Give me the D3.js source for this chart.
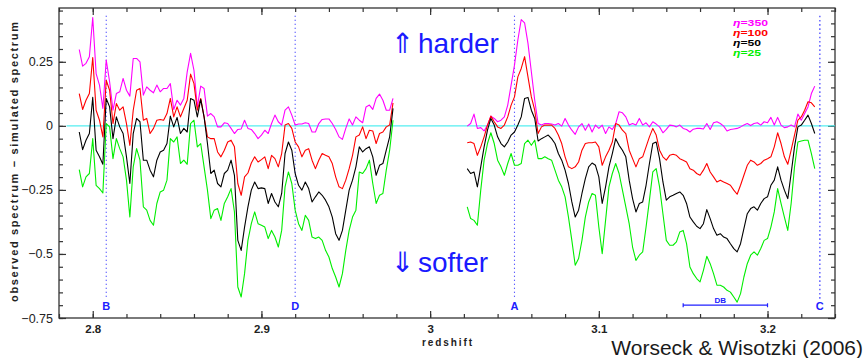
<!DOCTYPE html>
<html>
<head>
<meta charset="utf-8">
<script src="https://cdn.jsdelivr.net/npm/d3@7"></script>
<style>
  body { margin: 0; background: #fff; }
  svg { display: block; }
  text { font-family: "Liberation Sans", Arial, "DejaVu Sans", sans-serif; }
</style>
</head>
<body>
<div id="chart"></div>
<script>
//Data: redshift grid of the two spectrum pieces
var zLeft = [2.792,2.794,2.796,2.798,2.800,2.802,2.804,2.806,2.808,2.810,2.812,2.814,2.816,2.818,2.820,2.822,2.824,2.826,2.828,2.830,
  2.832,2.834,2.836,2.838,2.840,2.842,2.844,2.846,2.848,2.850,2.852,2.854,2.856,2.858,2.860,2.862,2.864,2.866,2.868,2.870,
  2.872,2.874,2.876,2.878,2.880,2.882,2.884,2.886,2.888,2.890,2.892,2.894,2.896,2.898,2.900,2.902,2.904,2.906,2.908,2.910,
  2.912,2.914,2.916,2.918,2.920,2.922,2.924,2.926,2.928,2.930,2.932,2.934,2.936,2.938,2.940,2.942,2.944,2.946,2.948,2.950,
  2.952,2.954,2.956,2.958,2.960,2.962,2.964,2.966,2.968,2.970,2.972,2.974,2.976,2.978];
var zRight = [3.022,3.024,3.026,3.028,3.030,3.032,3.034,3.036,3.038,3.040,3.042,3.044,3.046,3.048,3.050,3.052,3.054,3.056,3.058,3.060,
  3.062,3.064,3.066,3.068,3.070,3.072,3.074,3.076,3.078,3.080,3.082,3.084,3.086,3.088,3.090,3.092,3.094,3.096,3.098,3.100,
  3.102,3.104,3.106,3.108,3.110,3.112,3.114,3.116,3.118,3.120,3.122,3.124,3.126,3.128,3.130,3.132,3.134,3.136,3.138,3.140,
  3.142,3.144,3.146,3.148,3.150,3.152,3.154,3.156,3.158,3.160,3.162,3.164,3.166,3.168,3.170,3.172,3.174,3.176,3.178,3.180,
  3.182,3.184,3.186,3.188,3.190,3.192,3.194,3.196,3.198,3.200,3.202,3.204,3.206,3.208,3.210,3.212,3.214,3.216,3.218,3.220,
  3.222,3.224,3.226,3.228];

//observed - simulated, eta = 350
var magL = [0.298,0.233,0.244,0.270,0.423,0.204,0.159,0.068,0.257,0.172,0.061,0.126,0.133,0.185,0.139,0.116,0.263,0.263,0.250,0.120,
  0.152,0.139,0.129,0.159,0.133,0.146,0.146,0.165,0.064,0.100,0.081,0.107,0.211,0.283,0.217,0.074,0.155,0.146,0.038,0.048,
  0.035,-0.004,-0.004,0.012,0.009,-0.010,-0.030,-0.014,-0.012,0.022,-0.010,-0.014,-0.030,-0.050,-0.036,-0.017,-0.030,0.009,0.042,0.016,
  0.003,0.061,0.074,0.042,0.003,0.007,0.007,0.012,0.009,-0.024,-0.024,0.009,0.025,0.027,0.027,0.009,-0.014,-0.043,-0.053,-0.010,
  0.027,0.003,0.035,0.022,0.012,0.074,0.081,0.064,0.107,0.124,0.100,0.061,0.061,0.107];
var magR = [-0.001,0.009,0.046,-0.010,-0.007,-0.020,0.003,0.038,0.029,0.016,0.022,0.035,0.081,0.159,0.237,0.335,0.415,0.402,0.322,0.211,
  0.100,0.009,0.003,0.009,0.009,0.007,0.003,0.009,-0.001,0.029,0.003,-0.017,-0.033,-0.004,0.009,-0.017,0.007,-0.024,0.003,-0.010,
  0.003,-0.030,-0.004,-0.014,0.009,0.055,0.051,0.035,0.003,0.009,0.003,0.029,0.003,0.012,-0.004,0.016,0.007,-0.004,
  -0.027,-0.014,0.003,0.001,-0.004,0.003,-0.010,-0.014,-0.024,-0.013,-0.010,-0.010,-0.012,0.009,-0.014,0.012,0.016,0.009,-0.001,-0.020,
  -0.014,-0.012,-0.010,-0.004,0.003,0.009,0.001,0.009,0.012,0.003,0.016,0.012,0.033,0.003,0.033,0.003,-0.007,-0.004,0.003,-0.004,
  0.046,0.022,0.048,0.074,0.126,0.155];

//eta = 100
var redL = [0.126,0.064,0.100,0.126,0.267,0.061,0.022,-0.043,0.178,0.139,0.009,0.087,0.061,0.074,0.009,-0.076,0.061,0.139,0.146,0.022,
  0.029,-0.030,-0.010,0.022,0.025,0.022,0.048,0.107,0.035,0.074,0.035,0.068,0.100,0.202,0.165,0.061,0.107,0.035,-0.043,-0.050,
  -0.050,-0.102,-0.121,-0.095,-0.063,-0.056,-0.082,-0.225,-0.271,-0.199,-0.184,-0.145,-0.121,-0.141,-0.132,-0.121,-0.167,-0.115,-0.128,-0.160,
  -0.108,0.003,0.009,-0.010,-0.063,-0.082,-0.121,-0.095,-0.089,-0.134,-0.167,-0.134,-0.108,-0.115,-0.121,-0.147,-0.199,-0.238,-0.245,-0.212,
  -0.167,-0.115,-0.043,-0.036,-0.004,-0.050,-0.017,-0.020,-0.069,-0.030,-0.024,-0.004,0.003,0.090];
var redR = [-0.066,-0.063,-0.069,-0.115,-0.082,-0.043,0.003,0.038,0.016,-0.004,-0.010,0.003,0.035,0.081,0.113,0.191,0.224,0.270,0.191,0.113,
  0.061,-0.030,-0.004,0.003,0.003,0.003,-0.010,-0.036,-0.069,-0.121,-0.160,-0.167,-0.160,-0.141,-0.095,-0.069,-0.066,-0.066,-0.063,-0.082,
  -0.154,-0.121,-0.095,-0.063,0.009,0.003,-0.017,-0.030,-0.095,-0.128,-0.160,-0.128,-0.121,-0.082,-0.043,-0.010,-0.036,-0.095,
  -0.121,-0.134,-0.115,-0.111,-0.115,-0.128,-0.134,-0.141,-0.167,-0.173,-0.186,-0.193,-0.173,-0.147,-0.180,-0.199,-0.219,-0.212,-0.219,-0.225,
  -0.232,-0.251,-0.267,-0.232,-0.193,-0.154,-0.134,-0.141,-0.154,-0.147,-0.134,-0.128,-0.121,-0.082,-0.027,-0.069,-0.121,-0.150,-0.095,-0.036,
  0.022,0.035,0.061,0.094,0.090,0.074];

//eta = 50
var blkL = [-0.024,-0.093,-0.056,-0.030,0.111,-0.095,-0.121,-0.150,0.107,0.074,-0.050,0.035,-0.004,-0.030,-0.121,-0.225,-0.030,0.029,0.016,-0.134,
  -0.134,-0.173,-0.199,-0.134,-0.102,-0.095,-0.069,0.038,-0.004,0.033,-0.030,-0.010,-0.024,0.107,0.100,0.035,0.103,0.035,-0.069,-0.186,
  -0.173,-0.225,-0.238,-0.186,-0.173,-0.134,-0.193,-0.447,-0.486,-0.395,-0.316,-0.251,-0.219,-0.245,-0.242,-0.245,-0.303,-0.264,-0.297,-0.316,
  -0.264,-0.108,-0.063,-0.095,-0.186,-0.232,-0.251,-0.219,-0.245,-0.297,-0.277,-0.258,-0.271,-0.290,-0.316,-0.356,-0.421,-0.447,-0.408,-0.329,
  -0.251,-0.212,-0.160,-0.082,-0.102,-0.089,-0.082,-0.121,-0.193,-0.154,-0.147,-0.095,-0.043,0.068];
var blkR = [-0.167,-0.186,-0.180,-0.238,-0.160,-0.082,-0.017,0.029,0.003,-0.043,-0.069,-0.082,-0.063,-0.036,-0.024,0.003,0.035,0.107,0.111,0.061,
  0.029,-0.059,-0.050,-0.043,-0.036,-0.050,-0.069,-0.108,-0.134,-0.173,-0.225,-0.297,-0.356,-0.329,-0.264,-0.206,-0.160,-0.145,-0.154,-0.199,
  -0.303,-0.238,-0.160,-0.108,-0.050,-0.076,-0.095,-0.121,-0.212,-0.284,-0.336,-0.303,-0.297,-0.232,-0.147,-0.069,-0.063,-0.128,
  -0.219,-0.290,-0.277,-0.271,-0.264,-0.258,-0.271,-0.303,-0.356,-0.375,-0.392,-0.401,-0.382,-0.327,-0.362,-0.401,-0.427,-0.421,-0.434,-0.440,
  -0.460,-0.479,-0.492,-0.460,-0.401,-0.343,-0.323,-0.316,-0.329,-0.303,-0.284,-0.277,-0.232,-0.212,-0.160,-0.212,-0.251,-0.284,-0.186,-0.082,
  -0.004,0.003,0.022,0.042,0.009,-0.030];

//eta = 25
var grnL = [-0.171,-0.238,-0.199,-0.186,-0.050,-0.232,-0.245,-0.262,0.009,-0.004,-0.128,-0.050,-0.089,-0.121,-0.212,-0.356,-0.160,-0.089,-0.134,-0.316,
  -0.329,-0.369,-0.388,-0.303,-0.258,-0.251,-0.212,-0.050,-0.063,-0.043,-0.147,-0.134,-0.150,0.009,0.022,-0.082,-0.069,-0.160,-0.251,-0.362,
  -0.329,-0.323,-0.369,-0.303,-0.277,-0.245,-0.336,-0.629,-0.668,-0.577,-0.447,-0.382,-0.336,-0.382,-0.388,-0.395,-0.440,-0.408,-0.434,-0.473,
  -0.408,-0.238,-0.180,-0.225,-0.329,-0.382,-0.408,-0.349,-0.369,-0.434,-0.440,-0.434,-0.447,-0.486,-0.512,-0.557,-0.590,-0.629,-0.577,-0.486,
  -0.408,-0.356,-0.329,-0.180,-0.186,-0.167,-0.134,-0.225,-0.303,-0.271,-0.264,-0.173,-0.095,0.022];
var grnR = [-0.316,-0.362,-0.369,-0.388,-0.251,-0.134,-0.069,-0.027,-0.069,-0.134,-0.160,-0.193,-0.147,-0.108,-0.154,-0.154,-0.147,-0.069,-0.056,-0.076,
  -0.056,-0.128,-0.128,-0.121,-0.128,-0.134,-0.173,-0.212,-0.238,-0.277,-0.356,-0.447,-0.544,-0.518,-0.447,-0.356,-0.297,-0.264,-0.271,-0.395,
  -0.499,-0.369,-0.238,-0.186,-0.147,-0.186,-0.251,-0.316,-0.382,-0.473,-0.525,-0.505,-0.492,-0.395,-0.290,-0.180,-0.167,-0.238,
  -0.343,-0.447,-0.466,-0.466,-0.453,-0.414,-0.408,-0.460,-0.551,-0.577,-0.596,-0.609,-0.564,-0.509,-0.538,-0.577,-0.622,-0.622,-0.629,-0.642,
  -0.649,-0.668,-0.688,-0.655,-0.590,-0.538,-0.505,-0.492,-0.505,-0.479,-0.447,-0.440,-0.395,-0.336,-0.245,-0.303,-0.356,-0.408,-0.303,-0.160,
  -0.063,-0.059,-0.056,-0.056,-0.108,-0.167];

var seriesNames = ["350", "100", "50", "25"];
var seriesColors = ["#ff00ff", "#ff0000", "#000000", "#00ee00"];

//tick labels and annotation positions
var xTicks = [2.8, 2.9, 3.0, 3.1, 3.2];
var yTicks = [-0.75, -0.5, -0.25, 0, 0.25];
var markerNames = ["B", "D", "A", "C"];
var markerZ = [2.808, 2.92, 3.05, 3.231];
var dbRange = [3.15, 3.20];
var zeroRange = [2.7845, 3.24];

//---------------------------------------------------------------------------//

//Step 1: chart area
var svgWidth = 866;
var svgHeight = 358;
var margin = { top: 8, right: 31, bottom: 40, left: 59 };
var width = svgWidth - margin.left - margin.right;
var height = svgHeight - margin.top - margin.bottom;

var svg = d3.select("#chart").append("svg")
    .attr("width", svgWidth)
    .attr("height", svgHeight);

var chartGroup = svg.append("g")
    .attr("transform", `translate(${margin.left}, ${margin.top})`);

//Step 2: scales
var xScale = d3.scaleLinear().domain([2.78, 3.24]).range([0, width]);
var yScale = d3.scaleLinear().domain([-0.75, 0.46]).range([height, 0]);

var xMinor = d3.range(2.78, 3.2401, 0.02);
var yMinor = d3.range(-0.75, 0.4601, 0.05);

//Step 3: axes, all ticks point inward
function drawAxis(axis, transform, fontSize, weight) {
    var g = chartGroup.append("g").attr("transform", transform).call(axis);
    g.select(".domain").remove();
    g.selectAll("line").attr("stroke", "#333").attr("stroke-width", 1.2);
    g.selectAll("text").attr("font-size", fontSize).attr("font-weight", weight)
        .attr("fill", "#222").style("font-family", '"Liberation Sans", Arial, sans-serif');
    return g;
}
var fmtX = d => d === 3 ? "3" : d3.format(".1f")(d);
drawAxis(d3.axisBottom(xScale).tickValues(xTicks).tickSize(-7).tickPadding(7).tickFormat(fmtX),
    `translate(0, ${height})`, 11.5, "bold");
drawAxis(d3.axisBottom(xScale).tickValues(xMinor).tickSize(-4).tickFormat(""), `translate(0, ${height})`);
drawAxis(d3.axisTop(xScale).tickValues(xTicks).tickSize(-7).tickFormat(""), "translate(0,0)");
drawAxis(d3.axisTop(xScale).tickValues(xMinor).tickSize(-4).tickFormat(""), "translate(0,0)");
drawAxis(d3.axisLeft(yScale).tickValues(yTicks).tickSize(-7).tickPadding(6).tickFormat(d3.format("~g")),
    "translate(0,0)", 12.5, "normal");
drawAxis(d3.axisLeft(yScale).tickValues(yMinor).tickSize(-4).tickFormat(""), "translate(0,0)");
drawAxis(d3.axisRight(yScale).tickValues(yTicks).tickSize(-7).tickFormat(""), `translate(${width},0)`);
drawAxis(d3.axisRight(yScale).tickValues(yMinor).tickSize(-4).tickFormat(""), `translate(${width},0)`);

//frame
chartGroup.append("rect")
    .attr("width", width).attr("height", height)
    .attr("fill", "none").attr("stroke", "#333").attr("stroke-width", 1.3);

//Step 4: zero line
chartGroup.append("line")
    .attr("x1", xScale(zeroRange[0])).attr("x2", xScale(zeroRange[1]))
    .attr("y1", yScale(0)).attr("y2", yScale(0))
    .attr("stroke", "#55eef0").attr("stroke-width", 1.3);

//Step 5: marker lines B, D, A, C
markerNames.forEach(function(name, i) {
    var isC = name === "C";
    chartGroup.append("line")
        .attr("x1", xScale(markerZ[i])).attr("x2", xScale(markerZ[i]))
        .attr("y1", yScale(0.43)).attr("y2", yScale(-0.675))
        .attr("stroke", isC ? "#6f6fff" : "#2a2aff")
        .attr("stroke-width", isC ? 1.6 : 1.1)
        .attr("stroke-dasharray", isC ? "1.6,2.6" : "1.1,2.9");
    chartGroup.append("text")
        .attr("x", xScale(markerZ[i])).attr("y", 302)
        .attr("text-anchor", "middle")
        .attr("font-size", 11).attr("font-weight", "bold")
        .attr("fill", "#2020ff").text(name);
});

//DB interval
var dbY = yScale(-0.7);
chartGroup.append("path")
    .attr("d", `M${xScale(dbRange[0])},${dbY - 2}V${dbY + 2}M${xScale(dbRange[0])},${dbY}H${xScale(dbRange[1])}M${xScale(dbRange[1])},${dbY - 2}V${dbY + 2}`)
    .attr("stroke", "#2020ff").attr("stroke-width", 1.2).attr("fill", "none");
chartGroup.append("text")
    .attr("x", xScale((dbRange[0] + dbRange[1]) / 2) - 5).attr("y", dbY - 2)
    .attr("text-anchor", "middle").attr("font-size", 8).attr("font-weight", "bold")
    .attr("fill", "#2020ff").text("DB");

//Step 6: spectra
var line = d3.line().x(d => xScale(d[0])).y(d => yScale(d[1]));
var pieces = [[magL, magR], [redL, redR], [blkL, blkR], [grnL, grnR]];

pieces.forEach(function(p, s) {
    [[zLeft, p[0]], [zRight, p[1]]].forEach(function(seg) {
        var pts = seg[0].map((z, i) => [z, seg[1][i]]);
        chartGroup.append("path")
            .datum(pts)
            .attr("d", line)
            .attr("fill", "none")
            .attr("stroke", seriesColors[s])
            .attr("stroke-width", 1.1)
            .attr("stroke-linejoin", "round");
    });
});

//Step 7: legend
seriesNames.forEach(function(n, i) {
    var t = chartGroup.append("text")
        .attr("x", 733 - margin.left).attr("y", 25.5 - margin.top + i * 10.3)
        .attr("font-size", 9).attr("font-weight", "bold")
        .attr("fill", seriesColors[i])
        .attr("textLength", n.length === 3 ? 35 : 28)
        .attr("lengthAdjust", "spacingAndGlyphs");
    t.append("tspan").attr("font-style", "italic").text("η");
    t.append("tspan").text("=" + n);
});

//Step 8: harder / softer
function arrowText(arrow, word, yBase) {
    svg.append("text").attr("x", 391).attr("y", yBase)
        .attr("font-size", 28).attr("fill", "#1a1aff")
        .style("font-family", '"DejaVu Sans", sans-serif').text(arrow);
    svg.append("text").attr("x", 418).attr("y", yBase)
        .attr("font-size", 28).attr("fill", "#1a1aff").text(word);
}
arrowText("⇑", "harder", 53);
arrowText("⇓", "softer", 272);

//Step 9: axis titles and credit
svg.append("text")
    .attr("transform", "translate(18, 162) rotate(-90)")
    .attr("text-anchor", "middle")
    .attr("font-size", 11).attr("font-weight", "bold").attr("fill", "#222")
    .attr("textLength", 280).attr("lengthAdjust", "spacing")
    .text("observed spectrum − simulated spectrum");

svg.append("text")
    .attr("x", margin.left + width / 2).attr("y", 346)
    .attr("text-anchor", "middle")
    .attr("font-size", 10).attr("font-weight", "bold").attr("fill", "#222")
    .attr("textLength", 50).attr("lengthAdjust", "spacing")
    .text("redshift");

svg.append("text")
    .attr("x", 863).attr("y", 355)
    .attr("text-anchor", "end")
    .attr("font-size", 21).attr("fill", "#1a1a1a")
    .text("Worseck & Wisotzki (2006)");
</script>
</body>
</html>
